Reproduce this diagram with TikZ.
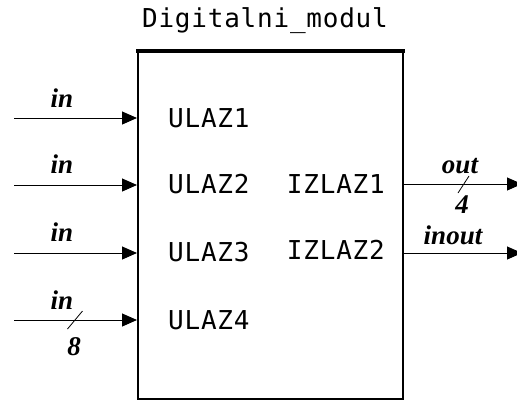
\documentclass[tikz,border=0pt]{standalone}
\usepackage{fontspec}
\newfontfamily\portfont[LetterSpace=3]{DejaVu Sans Mono}
\newfontfamily\sigfont{Liberation Serif}
\usetikzlibrary{arrows.meta}

\begin{document}
\begin{tikzpicture}[x=1pt,y=-1pt,
  port/.style={font=\portfont\fontsize{26}{30}\selectfont,inner sep=0pt},
  sig/.style={font=\sigfont\bfseries\itshape\fontsize{27}{30}\selectfont,inner sep=0pt},
  wire/.style={line width=1pt,-{Triangle[length=15pt,width=13pt]}},
  slash/.style={line width=0.8pt}]
\useasboundingbox (0,0) rectangle (517,400);
\clip (0,0) rectangle (517,400);

% the module itself
\node [draw,line width=2pt,minimum width=265pt,minimum height=347pt,inner sep=0pt,anchor=north west] (modul) at (137,51) {};
\draw [line width=4.5pt,shorten <=-1pt,shorten >=-1pt] (modul.north west) -- (modul.north east);
\node [port] (naziv) at (265,21) {Digitalni\_modul};

% ports
\node [port,anchor=west] (u1) at (168,118) {ULAZ1};
\node [port,anchor=west] (u2) at (168,184) {ULAZ2};
\node [port,anchor=west] (u3) at (168,252) {ULAZ3};
\node [port,anchor=west] (u4) at (168,320) {ULAZ4};
\node [port,anchor=east] (i1) at (385,184) {IZLAZ1};
\node [port,anchor=east] (i2) at (385,250) {IZLAZ2};

% input signals
\coordinate (a1) at (14,118);
\coordinate (a2) at (14,185);
\coordinate (a3) at (14,253);
\coordinate (a4) at (14,320);
\draw [wire] (a1) -- (a1 -| modul.west);
\draw [wire] (a2) -- (a2 -| modul.west);
\draw [wire] (a3) -- (a3 -| modul.west);
\draw [wire] (a4) -- (a4 -| modul.west) coordinate[pos=0.5] (b4);
\node [sig] (l1) at (62,98) {in};
\node [sig] (l2) at (62,164) {in};
\node [sig] (l3) at (62,232) {in};
\node [sig] (l4) at (62,300) {in};
\draw [slash] (b4) ++(-8,9) -- ++(15,-18);
\node [sig] (w4) at (74,347) {8};

% output signals
\coordinate (z1) at (522,184);
\coordinate (z2) at (522,253);
\draw [wire] (z1 -| modul.east) -- (z1) coordinate[pos=0.5] (c1);
\draw [wire] (z2 -| modul.east) -- (z2);
\node [sig] (o1) at (460,166) {out};
\node [sig] (o2) at (453,235) {inout};
\draw [slash] (c1) ++(-5,9) -- ++(11,-17);
\node [sig] (w1) at (462,205) {4};
\end{tikzpicture}
\end{document}
